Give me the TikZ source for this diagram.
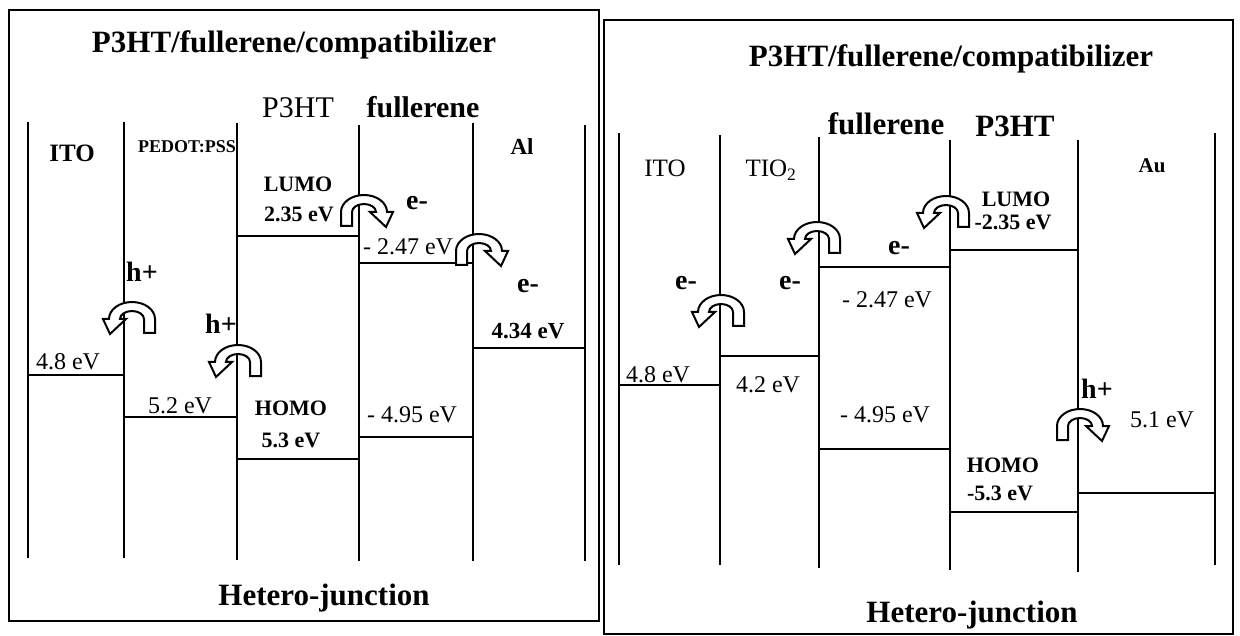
\documentclass[tikz,border=0pt]{standalone}
\usepackage{fontspec}
\setmainfont{Liberation Serif}
\newcommand\myfs[1]{\fontsize{#1}{#1}\selectfont}
\tikzset{
  lbl/.style={inner sep=0pt, anchor=base},
  lev/.style={line width=1.7pt},
  frame/.style={line width=1.8pt},
  hopstyle/.style={draw, line width=2pt, fill=white, line join=miter},
  hop/.pic={\path[hopstyle] (-23,31) -- (-23,17) arc[start angle=180,end angle=360,x radius=23,y radius=17] -- (29,17) -- (22,32) -- (6,17) -- (12,17) arc[start angle=0,end angle=-180,x radius=12,y radius=8] -- (-12,31) -- cycle;}
}
\begin{document}
\begin{tikzpicture}[x=1pt,y=-1pt]
\useasboundingbox (0,0) rectangle (1240,636);
% frames
\draw[frame] (9,10) rectangle (599,621);
\draw[frame] (604,20) rectangle (1233,634);
% left panel verticals
\draw[lev] (28,122) -- (28,558);
\draw[lev] (124,122) -- (124,558);
\draw[lev] (237,123) -- (237,560);
\draw[lev] (359,125) -- (359,561);
\draw[lev] (473,123) -- (473,561);
\draw[lev] (585,125) -- (585,561);
% left panel levels
\draw[lev] (28,375) -- (124,375);
\draw[lev] (124,417) -- (237,417);
\draw[lev] (237,236) -- (359,236);
\draw[lev] (237,459) -- (359,459);
\draw[lev] (359,263) -- (473,263);
\draw[lev] (359,437) -- (473,437);
\draw[lev] (473,348) -- (585,348);
% right panel verticals
\draw[lev] (619,133) -- (619,565);
\draw[lev] (720,135) -- (720,565);
\draw[lev] (819,137) -- (819,568);
\draw[lev] (950,140) -- (950,570);
\draw[lev] (1078,140) -- (1078,572);
\draw[lev] (1215,133) -- (1215,565);
% right panel levels
\draw[lev] (619,385) -- (720,385);
\draw[lev] (720,356) -- (819,356);
\draw[lev] (819,267) -- (950,267);
\draw[lev] (819,449) -- (950,449);
\draw[lev] (950,250) -- (1078,250);
\draw[lev] (950,512) -- (1078,512);
\draw[lev] (1078,493) -- (1215,493);
% hopping arrows
\pic at (364,195) {hop};
\pic at (479,234) {hop};
\pic[xscale=-1] at (132,302) {hop};
\pic[xscale=-1] at (238,345) {hop};
\pic[xscale=-1] at (721,295) {hop};
\pic[xscale=-1] at (817,222) {hop};
\pic[xscale=-1] at (946,196) {hop};
\pic at (1080,409) {hop};
% left panel texts
\node[lbl, font=\myfs{31}\bfseries] (title1) at (294,53) {P3HT/fullerene/compatibilizer};
\node[lbl, font=\myfs{30}] (p3htL) at (298,118) {P3HT};
\node[lbl, font=\myfs{30}\bfseries] (fullL) at (423,118) {fullerene};
\node[lbl, font=\myfs{25}\bfseries] (itoL) at (72,162) {ITO};
\node[lbl, font=\myfs{18}\bfseries] (pedot) at (187,153) {PEDOT:PSS};
\node[lbl, font=\myfs{23}\bfseries] (alL) at (522,155) {Al};
\node[lbl, font=\myfs{22}\bfseries] (lumoL) at (298,192) {LUMO};
\node[lbl, font=\myfs{22}\bfseries] (lumoLv) at (299,222) {2.35 eV};
\node[lbl, font=\myfs{28}\bfseries] (eL1) at (417,210) {e-};
\node[lbl, font=\myfs{24}] (fLumoL) at (408,255) {- 2.47 eV};
\node[lbl, font=\myfs{28}\bfseries] (eL2) at (528,293) {e-};
\node[lbl, font=\myfs{28}\bfseries] (hL1) at (142,282) {h+};
\node[lbl, font=\myfs{28}\bfseries] (hL2) at (221,334) {h+};
\node[lbl, font=\myfs{23}\bfseries] (alv) at (528,338) {4.34 eV};
\node[lbl, font=\myfs{24}] (itoLv) at (68,370) {4.8 eV};
\node[lbl, font=\myfs{24}] (pedotv) at (180,413) {5.2 eV};
\node[lbl, font=\myfs{22}\bfseries] (homoL) at (291,415) {HOMO};
\node[lbl, font=\myfs{22}\bfseries] (homoLv) at (291,447) {5.3 eV};
\node[lbl, font=\myfs{24}] (fHomoL) at (412,422) {- 4.95 eV};
\node[lbl, font=\myfs{31}\bfseries] (hetL) at (324,605) {Hetero-junction};
% right panel texts
\node[lbl, font=\myfs{31}\bfseries] (title2) at (951,67) {P3HT/fullerene/compatibilizer};
\node[lbl, font=\myfs{31}\bfseries] (fullR) at (886,135) {fullerene};
\node[lbl, font=\myfs{31}\bfseries] (p3htR) at (1015,137) {P3HT};
\node[lbl, font=\myfs{25}] (itoR) at (665,177) {ITO};
\node[lbl, font=\myfs{25}] (tio) at (771,177) {TIO\textsubscript{2}};
\node[lbl, font=\myfs{21}\bfseries] (auR) at (1152,173) {Au};
\node[lbl, font=\myfs{22}\bfseries] (lumoR) at (1016,207) {LUMO};
\node[lbl, font=\myfs{22}\bfseries] (lumoRv) at (1013,230) {-2.35 eV};
\node[lbl, font=\myfs{28}\bfseries] (eR3) at (899,255) {e-};
\node[lbl, font=\myfs{28}\bfseries] (eR1) at (686,290) {e-};
\node[lbl, font=\myfs{28}\bfseries] (eR2) at (790,290) {e-};
\node[lbl, font=\myfs{24}] (fLumoR) at (887,308) {- 2.47 eV};
\node[lbl, font=\myfs{24}] (itoRv) at (658,382) {4.8 eV};
\node[lbl, font=\myfs{24}] (tioV) at (768,392) {4.2 eV};
\node[lbl, font=\myfs{24}] (fHomoR) at (885,422) {- 4.95 eV};
\node[lbl, font=\myfs{28}\bfseries] (hR) at (1097,398) {h+};
\node[lbl, font=\myfs{24}] (auV) at (1162,427) {5.1 eV};
\node[lbl, font=\myfs{22}\bfseries] (homoR) at (1003,472) {HOMO};
\node[lbl, font=\myfs{22}\bfseries] (homoRv) at (1000,500) {-5.3 eV};
\node[lbl, font=\myfs{31}\bfseries] (hetR) at (972,622) {Hetero-junction};
\end{tikzpicture}
\end{document}
